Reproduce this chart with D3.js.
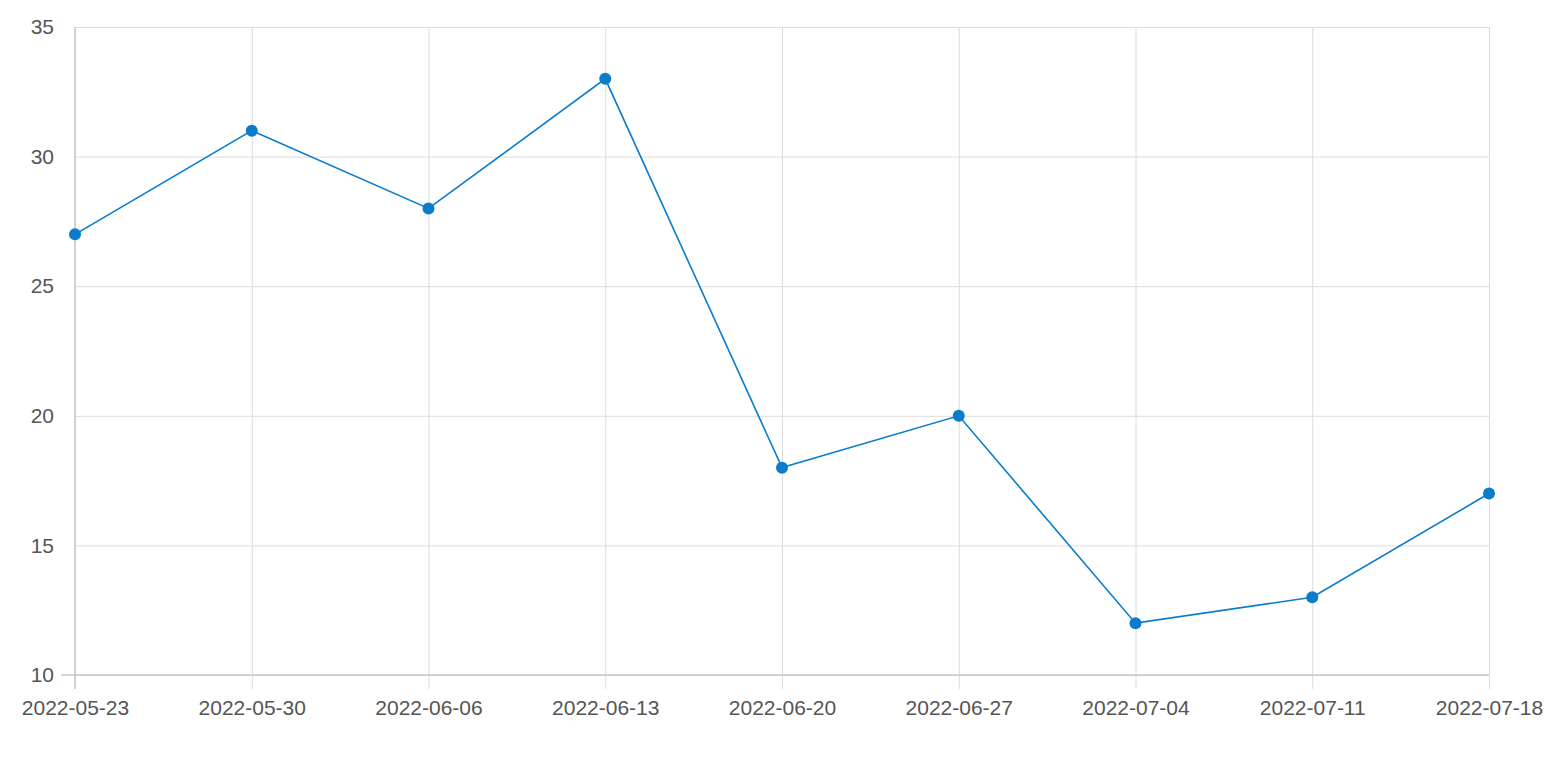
<!DOCTYPE html>
<html><head><meta charset="utf-8">
<script src="https://cdn.jsdelivr.net/npm/d3@7"></script>
<style>html,body{margin:0;padding:0;background:#fff;}svg{display:block;}</style>
</head><body>
<svg id="c" width="1564" height="758"></svg>
<script>
const dates = ["2022-05-23","2022-05-30","2022-06-06","2022-06-13","2022-06-20","2022-06-27","2022-07-04","2022-07-11","2022-07-18"];
const values = [27,31,28,33,18,20,12,13,17];
const yTicks = [10,15,20,25,30,35];

const svg = d3.select("#c");
const L = 75, R = 1489, T = 27, B = 675;
const x = d3.scalePoint().domain(dates).range([L, R]);
const y = d3.scaleLinear().domain([10, 35]).range([B, T]);
const font = "'Liberation Sans', Arial, sans-serif";

const yAx = svg.append("g").attr("transform", `translate(${L},0)`)
  .call(d3.axisLeft(y).tickValues(yTicks).tickSize(14).tickSizeOuter(0).tickPadding(7));
yAx.select(".domain").remove();
yAx.selectAll(".tick line").attr("stroke", "#dcdcdc").attr("x2", R - L);
yAx.selectAll(".tick text").attr("font-family", font).attr("font-size", 21).attr("fill", "#555");

const xAx = svg.append("g").attr("transform", `translate(0,${B})`)
  .call(d3.axisBottom(x).tickSize(14).tickSizeOuter(0).tickPadding(11));
xAx.select(".domain").remove();
xAx.selectAll(".tick line").attr("stroke", "#dcdcdc").attr("y1", -(B - T)).attr("y2", 14);
xAx.selectAll(".tick text").attr("font-family", font).attr("font-size", 21).attr("fill", "#555");

svg.append("line").attr("x1", L).attr("x2", L).attr("y1", T).attr("y2", B + 14).attr("stroke", "#c8c8c8").attr("stroke-width", 1.5);
svg.append("line").attr("x1", L - 14).attr("x2", R).attr("y1", B).attr("y2", B).attr("stroke", "#c8c8c8").attr("stroke-width", 1.5);

const line = d3.line().x((d, i) => x(dates[i])).y(d => y(d));
svg.append("path").datum(values).attr("d", line).attr("fill", "none")
  .attr("stroke", "#0a7ccb").attr("stroke-width", 1.6);
svg.selectAll("circle.pt").data(values).enter().append("circle").attr("class", "pt")
  .attr("cx", (d, i) => x(dates[i])).attr("cy", d => y(d)).attr("r", 6).attr("fill", "#0a7ccb");
</script>
</body></html>
